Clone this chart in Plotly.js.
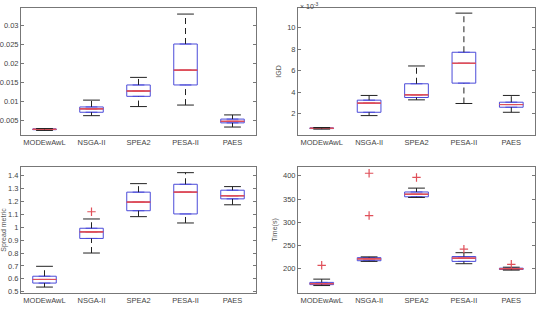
<!DOCTYPE html>
<html><head><meta charset="utf-8">
<script src="https://cdn.plot.ly/plotly-3.0.1.min.js"></script>
<style>html,body{margin:0;padding:0;background:#fff}#c{width:539px;height:309px}</style>
</head><body><div id="c"></div>
<script>
const categories = ["MODEwAwL", "NSGA-II", "SPEA2", "PESA-II", "PAES"];

// Panel A (top-left)
const aLow = [0.0024, 0.0063, 0.0087, 0.0091, 0.0033];
const aQ1  = [0.0026, 0.0072, 0.0114, 0.0144, 0.0044];
const aMed = [0.0027, 0.0081, 0.0128, 0.0183, 0.0048];
const aQ3  = [0.0028, 0.0086, 0.0144, 0.0252, 0.0054];
const aUp  = [0.0029, 0.0104, 0.0164, 0.0331, 0.0065];
const aOutX = [], aOutY = [];
const aTicks = [0.005, 0.01, 0.015, 0.02, 0.025, 0.03];

// Panel B (top-right) IGD, units of 1e-3
const bLow = [0.55, 1.81, 3.28, 2.94, 2.12];
const bQ1  = [0.60, 2.12, 3.50, 4.84, 2.59];
const bMed = [0.63, 2.97, 3.75, 6.69, 2.84];
const bQ3  = [0.66, 3.25, 4.78, 7.72, 3.06];
const bUp  = [0.70, 3.69, 6.44, 11.37, 3.69];
const bOutX = [], bOutY = [];
const bTicks = [2, 4, 6, 8, 10];

// Panel C (bottom-left)
const cLow = [0.536, 0.80, 1.082, 1.033, 1.174];
const cQ1  = [0.567, 0.913, 1.128, 1.103, 1.22];
const cMed = [0.595, 0.964, 1.195, 1.272, 1.244];
const cQ3  = [0.62, 0.992, 1.272, 1.333, 1.287];
const cUp  = [0.697, 1.064, 1.338, 1.423, 1.315];
const cOutX = [2];
const cOutY = [1.12];
const cTicks = [0.5, 0.6, 0.7, 0.8, 0.9, 1, 1.1, 1.2, 1.3, 1.4];

// Panel D (bottom-right) Time(s)
const dLow = [164, 216, 353.5, 211, 197.2];
const dQ1  = [166, 217.4, 354.9, 216, 198.6];
const dMed = [168, 221.5, 360.4, 222.9, 200];
const dQ3  = [170.8, 224, 365.3, 226.4, 201.4];
const dUp  = [177.8, 225.7, 373.6, 234.7, 203.5];
const dOutX = [1, 2, 2, 3, 4, 5];
const dOutY = [207.6, 405.6, 314.6, 396.5, 242.4, 209.7];
const dTicks = [200, 250, 300, 350, 400];

const BLUE = "#4b4bd9", RED = "#e0505a", BLACK = "#222";
const pos = categories.map((c, i) => i + 1);

function panel(low, q1, med, q3, up, ox, oy, xa, ya) {
  const wx = [], wy = [];
  pos.forEach((p, i) => {
    wx.push(p, p, null, p, p, null);
    wy.push(q3[i], up[i], null, low[i], q1[i], null);
  });
  const capX = pos.concat(pos), capY = up.concat(low);
  return [
    {type: "scatter", mode: "lines", x: wx, y: wy, xaxis: xa, yaxis: ya,
     line: {color: BLACK, width: 1, dash: "6px,4px"}, hoverinfo: "skip", showlegend: false},
    {type: "scatter", mode: "markers", x: capX, y: capY, xaxis: xa, yaxis: ya,
     marker: {symbol: "line-ew", size: 12, color: BLACK, line: {color: BLACK, width: 1}}, showlegend: false},
    {type: "box", x: pos, q1: q1, median: med, q3: q3, lowerfence: q1, upperfence: q3,
     xaxis: xa, yaxis: ya, width: 0.5, line: {color: BLUE, width: 1},
     fillcolor: "rgba(0,0,0,0)", showlegend: false, boxpoints: false},
    {type: "box", x: pos, q1: med, median: med, q3: med, lowerfence: med, upperfence: med,
     xaxis: xa, yaxis: ya, width: 0.5, line: {color: RED, width: 1},
     fillcolor: "rgba(0,0,0,0)", showlegend: false, boxpoints: false},
    {type: "scatter", mode: "markers", x: ox, y: oy, xaxis: xa, yaxis: ya,
     marker: {symbol: "cross-thin-open", size: 6, color: RED, line: {color: RED, width: 1.2}}, showlegend: false}
  ];
}

const data = [].concat(
  panel(aLow, aQ1, aMed, aQ3, aUp, aOutX, aOutY, "x", "y"),
  panel(bLow, bQ1, bMed, bQ3, bUp, bOutX, bOutY, "x2", "y2"),
  panel(cLow, cQ1, cMed, cQ3, cUp, cOutX, cOutY, "x3", "y3"),
  panel(dLow, dQ1, dMed, dQ3, dUp, dOutX, dOutY, "x4", "y4")
);

const tf = {family: "Liberation Sans, Arial, sans-serif", size: 7.5, color: "#444"};
function xax(dom, anchor) {
  return {domain: dom, anchor: anchor, range: [0.5, 5.5], tickvals: pos, ticktext: categories,
    showline: true, mirror: true, linecolor: "#777", linewidth: 1, ticks: "", showgrid: false,
    zeroline: false, tickfont: tf, fixedrange: true};
}
function yax(dom, anchor, range, ticks, title) {
  const a = {domain: dom, anchor: anchor, range: range, tickvals: ticks, showline: true, mirror: "ticks",
    linecolor: "#777", linewidth: 1, ticks: "inside", ticklen: 3, tickcolor: "#777",
    showgrid: false, zeroline: false, tickfont: tf};
  if (title) a.title = {text: title, font: {family: "Liberation Sans, Arial, sans-serif", size: 7, color: "#555"}, standoff: 4};
  return a;
}
const xL = [21/539, 256/539], xR = [298/539, 535/539];
const yT = [(309-135)/309, (309-8)/309], yB = [(309-293)/309, (309-167)/309];

const layout = {
  width: 539, height: 309, margin: {l: 0, r: 0, t: 0, b: 0},
  paper_bgcolor: "#fff", plot_bgcolor: "#fff", boxmode: "overlay", showlegend: false,
  xaxis: xax(xL, "y"), yaxis: yax(yT, "x", [0.0012, 0.0347], aTicks, null),
  xaxis2: xax(xR, "y2"), yaxis2: yax(yT, "x2", [0, 11.85], bTicks, "IGD"),
  xaxis3: xax(xL, "y3"), yaxis3: yax(yB, "x3", [0.49, 1.467], cTicks, "Spread metric"),
  xaxis4: xax(xR, "y4"), yaxis4: yax(yB, "x4", [148, 419], dTicks, "Time(s)"),
  annotations: [{xref: "paper", yref: "paper", x: 298/539, y: 1, xanchor: "left", yanchor: "top",
    text: "× 10<sup>-3</sup>", showarrow: false,
    font: {family: "Liberation Sans, Arial, sans-serif", size: 7, color: "#444"}}]
};
Plotly.newPlot("c", data, layout, {displayModeBar: false, staticPlot: true});
</script></body></html>
